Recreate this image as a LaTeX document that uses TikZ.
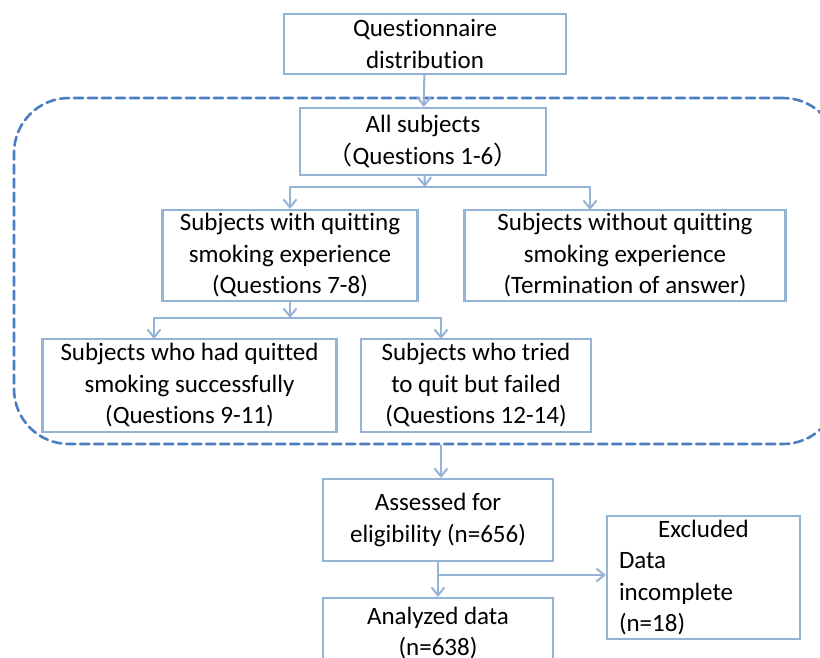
\documentclass[tikz,border=0pt]{standalone}
\usepackage{fontspec}
\setmainfont{Carlito}[Ligatures=NoCommon]
\newfontfamily\cjk{Noto Sans CJK SC}
\usetikzlibrary{arrows.meta}

\begin{document}
\begin{tikzpicture}
			[x=1pt,y=-1pt,line cap=round,
			%Styles
			box/.style={draw=boxblue,line width=2.2pt,align=center,inner sep=0pt,
				font=\fontsize{25}{31.5}\selectfont},
			group/.style={draw=dashblue,line width=2.6pt,dash pattern=on 9pt off 5pt,
				rounded corners=55pt,inner sep=0pt},
			link/.style={draw=boxblue,line width=2pt},
			arr/.style={link,-{Straight Barb[length=8pt,width=13pt,line width=2pt]}}
			]
			
			%Colors
			\definecolor{boxblue}{RGB}{149,179,215}
			\definecolor{dashblue}{RGB}{74,126,193}
			
			\useasboundingbox (0,0) rectangle (820,657);
			\clip (0,0) rectangle (820,657);
			
			%The graphic
			\node[group,minimum width=824pt,minimum height=346pt] (grp) at (426,271) {};
			
			\node[box,minimum width=282pt,minimum height=60pt] (quest) at (425,44) {Questionnaire\\distribution};
			\node[box,minimum width=246pt,minimum height=67pt] (all) at (423,141.5) {All subjects\\{\cjk （}Questions 1-6{\cjk ）}};
			\node[box,minimum width=255pt,minimum height=91pt] (withq) at (290,255.5) {Subjects with quitting\\smoking experience\\(Questions 7-8)};
			\node[box,minimum width=321pt,minimum height=91pt] (withoutq) at (625,255.5) {Subjects without quitting\\smoking experience\\(Termination of answer)};
			\node[box,minimum width=294pt,minimum height=93pt] (success) at (189.5,385.5) {Subjects who had quitted\\smoking successfully\\(Questions 9-11)};
			\node[box,minimum width=230pt,minimum height=93pt] (failed) at (476,385.5) {Subjects who tried\\to quit but failed\\(Questions 12-14)};
			\node[box,minimum width=230pt,minimum height=82pt] (assess) at (438,520) {Assessed for\\eligibility (n=656)};
			\node[box,minimum width=193pt,minimum height=123pt,align=left,text width=169pt] (excl) at (703.5,577.5) {\makebox[169pt][c]{Excluded}\\Data\\incomplete\\(n=18)};
			\node[box,minimum width=230pt,minimum height=70pt] (anal) at (438,633) {Analyzed data\\(n=638)};
			
			\coordinate (fork1) at (425,187);
			\coordinate (fork2) at (290,318);
			\coordinate (fork3) at (438,575);
			
			\draw[arr] (quest) -- (all);
			\draw[arr] (all) -- (fork1);
			\draw[link] (fork1) -- (fork1 -| withq);
			\draw[link] (fork1) -- (590,187);
			\draw[arr] (fork1 -| withq) -- (withq);
			\draw[arr] (590,187) -- (590,210);
			
			\draw[arr] (withq) -- (fork2);
			\draw[link] (154,318) -- (441,318);
			\draw[arr] (154,318) -- (154,339);
			\draw[arr] (441,318) -- (441,339);
			
			\draw[arr] (grp.south -| 441,0) -- ([xshift=3pt]assess.north);
			\draw[arr] (assess) -- (anal);
			\draw[arr] (fork3) -- (fork3 -| excl.west);
		\end{tikzpicture}
\end{document}
